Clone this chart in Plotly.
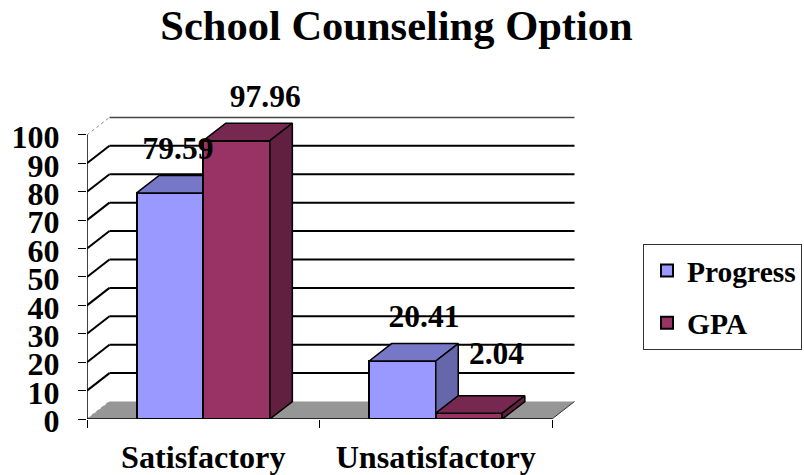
import plotly.graph_objects as go

# ---- data ----
title_text = "School Counseling Option"
categories = ["Satisfactory", "Unsatisfactory"]
series_names = ["Progress", "GPA"]
progress_values = [79.59, 20.41]
gpa_values = [97.96, 2.04]
y_ticks = [0, 10, 20, 30, 40, 50, 60, 70, 80, 90, 100]

# ---- styling / projection constants ----
W, H = 804, 475
PX_L, PX_R, PX_T, PX_B = 87, 575, 60, 419.5
PX_PER_CAT = 232.5
PX_PER_UNIT = 2.845
DX = 22.5 / PX_PER_CAT
DY = 17.5 / PX_PER_UNIT
BAR_W = 66.6 / PX_PER_CAT
X_MAX = (PX_R - PX_L) / PX_PER_CAT
Y_MAX = (PX_B - PX_T) / PX_PER_UNIT
cat_pos = [i + 0.5 for i in range(len(categories))]
FONT = "Liberation Serif"
front = {"Progress": "#9999FF", "GPA": "#993366"}
top = {"Progress": "#7777C7", "GPA": "#772850"}
side = {"Progress": "#6666AA", "GPA": "#622040"}
# label displacement from the bar centre (categories, px) in the reference
label_dx = {"Progress": [8, 21.6], "GPA": [28.7, 27.5]}
label_gap = {"Progress": [9, 9], "GPA": [8, 24]}

fig = go.Figure()


def cube(name, values, offset, xa, ya):
    fig.add_trace(go.Bar(
        x=cat_pos, y=values, width=BAR_W, offset=offset, name=name,
        legendgroup=name,
        marker=dict(color=front[name], line=dict(color="black", width=2)),
        xaxis=xa, yaxis=ya,
    ))
    for c, v in zip(cat_pos, values):
        l, r = c + offset, c + offset + BAR_W
        fig.add_trace(go.Scatter(
            x=[l, r, r + DX, l + DX, l], y=[v, v, v + DY, v + DY, v],
            mode="lines", fill="toself", fillcolor=top[name],
            line=dict(color="black", width=1.5), showlegend=False,
            hoverinfo="skip", xaxis=xa, yaxis=ya))
        fig.add_trace(go.Scatter(
            x=[r, r + DX, r + DX, r, r], y=[0, DY, v + DY, v, 0],
            mode="lines", fill="toself", fillcolor=side[name],
            line=dict(color="black", width=1.5), showlegend=False,
            hoverinfo="skip", xaxis=xa, yaxis=ya))


cube("Progress", progress_values, -BAR_W, "x", "y")
cube("GPA", gpa_values, 0, "x2", "y2")

# data labels
lx, ly, lt = [], [], []
for name, values, off in (("Progress", progress_values, -BAR_W), ("GPA", gpa_values, 0)):
    for i, v in enumerate(values):
        lx.append(cat_pos[i] + off + BAR_W / 2 + label_dx[name][i] / PX_PER_CAT)
        ly.append(v + DY + label_gap[name][i] / PX_PER_UNIT)
        lt.append(f"{v:.2f}")
fig.add_trace(go.Scatter(
    x=lx, y=ly, text=lt, mode="text", textposition="top center",
    textfont=dict(family=FONT, size=31.5, color="black", weight=700),
    cliponaxis=False, showlegend=False, hoverinfo="skip", xaxis="x2", yaxis="y2"))

# walls, floor and gridlines
n = len(categories)
shapes = [dict(type="path", layer="below", xref="x", yref="y",
               path=f"M0,0 L{n},0 L{n + DX},{DY} L{DX},{DY} Z",
               fillcolor="#969696", line=dict(width=0))]
for v in y_ticks:
    if v == 0:
        slant = dict(color="#8c8c8c", width=1, dash="dot")
        back = None
    elif v == y_ticks[-1]:
        slant = dict(color="#8c8c8c", width=1, dash="dot")
        back = dict(color="#444444", width=1.5)
    else:
        slant = back = dict(color="black", width=2)
    shapes.append(dict(type="line", layer="below", xref="x", yref="y",
                       x0=0, y0=v, x1=DX, y1=v + DY, line=slant))
    if back:
        shapes.append(dict(type="line", layer="below", xref="x", yref="y",
                           x0=DX, y0=v + DY, x1=n + DX, y1=v + DY, line=back))
shapes += [
    dict(type="line", layer="below", xref="x", yref="y", x0=0, y0=0, x1=0, y1=y_ticks[-1],
         line=dict(color="black", width=1.5)),
    dict(type="line", layer="below", xref="x", yref="y", x0=0, y0=0, x1=n, y1=0,
         line=dict(color="black", width=1.5)),
    dict(type="line", layer="below", xref="x", yref="y", x0=n, y0=0, x1=n + DX, y1=DY,
         line=dict(color="#333333", width=1)),
]

fig.update_layout(
    width=W, height=H, paper_bgcolor="white", plot_bgcolor="rgba(0,0,0,0)",
    margin=dict(l=PX_L, r=W - PX_R, t=PX_T, b=H - PX_B, pad=0, autoexpand=False),
    title=dict(text=f"<b>{title_text}</b>", x=396.5 / W, xanchor="center", xref="container",
               y=1 - 40 / H, yanchor="bottom", yref="container",
               font=dict(family=FONT, size=42.5, color="black")),
    xaxis=dict(range=[0, X_MAX], tickmode="array", tickvals=cat_pos, ticktext=categories,
               ticks="", showgrid=False, zeroline=False, showline=False,
               tickfont=dict(family=FONT, size=32.2, color="black", weight=700),
               ticklabelstandoff=16,
               minor=dict(tickmode="array", tickvals=list(range(n + 1)), ticks="outside",
                          ticklen=8, tickcolor="black", tickwidth=1, showgrid=False)),
    yaxis=dict(range=[0, Y_MAX], tickmode="array", tickvals=y_ticks, ticks="outside",
               ticklen=8, tickcolor="black", tickwidth=1, showgrid=False, zeroline=False,
               showline=False, ticklabelstandoff=12, ticklabelshift=2,
               tickfont=dict(family=FONT, size=32, color="black", weight=700)),
    xaxis2=dict(range=[0, X_MAX], overlaying="x", visible=False),
    yaxis2=dict(range=[0, Y_MAX], overlaying="y", visible=False),
    shapes=shapes,
    showlegend=True,
    legend=dict(x=(643 - PX_L) / (PX_R - PX_L), xanchor="left",
                y=(PX_B - 244) / (PX_B - PX_T), yanchor="top",
                bgcolor="white", bordercolor="#333333", borderwidth=1,
                font=dict(family=FONT, size=29.5, color="black", weight=700),
                traceorder="grouped", tracegroupgap=11, indentation=3,
                entrywidth=125, entrywidthmode="pixels"),
    bargap=0,
)

fig.write_html("out.html", post_script="document.body.style.margin='0';",
               config={"displayModeBar": False})
